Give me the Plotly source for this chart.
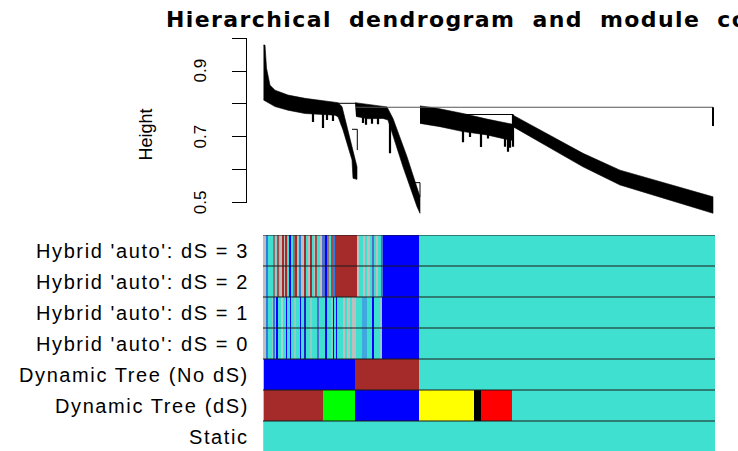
import plotly.graph_objects as go

W, H = 738, 451
N_LEAVES = 452          # leaf order positions along the dendrogram

# ---------------- dendrogram (leaf position, merge height) ----------------
# upper envelope (merge heights) left->right, lower envelope (leaf heights) right->left
c1_top_x = [0.5, 2, 3.5, 7, 12, 25, 42, 72, 75, 79, 84, 90, 94, 94]
c1_top_h = [0.979, 0.979, 0.909, 0.857, 0.842, 0.827, 0.817, 0.807, 0.804, 0.792, 0.731, 0.665, 0.609, 0.571]
c1_bot_x = [90, 89, 85, 80, 75, 72, 42, 25, 12, 4, 1, 0.5]
c1_bot_h = [0.574, 0.630, 0.670, 0.721, 0.761, 0.766, 0.771, 0.781, 0.792, 0.807, 0.812, 0.812]

c2_top_x = [92, 107, 124, 130, 144, 157, 157]
c2_top_h = [0.804, 0.798, 0.791, 0.756, 0.640, 0.518, 0.468]
c2_bot_x = [154, 140, 125, 120, 105, 93]
c2_bot_h = [0.488, 0.609, 0.751, 0.756, 0.755, 0.762]

c3_top_x = [157, 174, 200, 224, 250]
c3_top_h = [0.794, 0.787, 0.771, 0.754, 0.738]
c3_bot_x = [250, 247, 224, 200, 177, 157]
c3_bot_h = [0.690, 0.690, 0.706, 0.716, 0.731, 0.741]

c4_top_x = [250, 280, 320, 357, 397, 450]
c4_top_h = [0.766, 0.716, 0.650, 0.599, 0.564, 0.518]
c4_bot_x = [450, 397, 357, 320, 280, 250]
c4_bot_h = [0.468, 0.518, 0.554, 0.609, 0.680, 0.731]

# single-leaf spikes hanging below the bands
spike_x = [50, 60, 64, 70, 100, 103, 109, 115, 127, 200, 207, 218, 225, 242, 245, 247, 250]
spike_top = [0.775, 0.772, 0.771, 0.770, 0.760, 0.760, 0.760, 0.760, 0.756, 0.720, 0.717, 0.712,
             0.710, 0.695, 0.693, 0.692, 0.768]
spike_bot = [0.745, 0.727, 0.751, 0.748, 0.742, 0.737, 0.740, 0.738, 0.650, 0.684, 0.700, 0.669,
             0.695, 0.670, 0.655, 0.667, 0.670]

# open merge brackets
bracket1_x = [89, 94.3, 94.3]
bracket1_h = [0.723, 0.723, 0.660]
bracket2_x = [149, 157, 157]
bracket2_h = [0.561, 0.561, 0.518]

# upper merge lines
merge12_x = [75, 92]
merge12_h = [0.802, 0.802]
merge34_x = [200, 250]
merge34_h = [0.768, 0.768]
root_x = [92, 450]
root_h = [0.790, 0.790]
last_leaf_x = [450, 450]
last_leaf_h = [0.790, 0.733]

# y axis of dendrogram
tick_vals = [0.5, 0.6, 0.7, 0.8, 0.9, 1.0]
tick_labels = {0.5: "0.5", 0.7: "0.7", 0.9: "0.9"}

# ---------------- module colour rows ----------------
TRQ, GRY, BLU, BRN = "#40E0D0", "#BEBEBE", "#0000FF", "#A52A2A"
GRN, YEL, BLK, RED = "#00FF00", "#FFFF00", "#000000", "#FF0000"
DBL, GBR, GTQ, BGR = "#2E7BE6", "#8E7272", "#8CCDC6", "#9C4F4F"
BLG, LGT, BTQ, DKB = "#4F6FCF", "#9ED6D0", "#3FA8DE", "#2222C0"

row_labels = ["Hybrid 'auto': dS = 3", "Hybrid 'auto': dS = 2", "Hybrid 'auto': dS = 1",
              "Hybrid 'auto': dS = 0", "Dynamic Tree (No dS)", "Dynamic Tree (dS)", "Static"]

hybrid_ds3 = [(0, GRY), (3, DBL), (4.7, TRQ), (9.7, GBR), (11.7, GTQ), (13.7, BGR), (15.7, TRQ),
              (17.7, GRY), (19, BRN), (21, GRY), (22.3, BRN), (23.7, TRQ), (26.3, BLU), (27.7, TRQ),
              (30.3, GBR), (32.3, BRN), (33.7, GTQ), (36.3, DBL), (38.3, GRY), (41, BRN), (43, TRQ),
              (45, GRY), (47, BRN), (49, TRQ), (51, GRY), (52.3, BGR), (54.3, TRQ), (57, GRY),
              (59, BLG), (61.7, BLU), (63.7, GBR), (65.7, TRQ), (68.3, BGR), (70.3, DBL), (72.3, BRN),
              (93.7, GRY), (96.3, TRQ), (100.3, GRY), (102.3, TRQ), (104.3, GRY), (107, TRQ),
              (109, BLG), (111, TRQ), (113, GRY), (115, TRQ), (118.3, BLG), (119.7, BLU), (156, TRQ)]
hybrid_ds2 = list(hybrid_ds3)
hybrid_ds1 = [(0, GRY), (3, DBL), (5, TRQ), (9, GTQ), (10.3, DBL), (12.3, GTQ), (13.7, BLU), (15, TRQ),
              (18.3, LGT), (20.3, TRQ), (23, BLU), (23.7, TRQ), (27, BLU), (28.3, TRQ), (31, GTQ),
              (33, TRQ), (37, BLU), (38.3, TRQ), (41, DKB), (43, TRQ), (47, GTQ), (49, TRQ),
              (53.7, BLG), (56.3, TRQ), (61.7, BLU), (63.7, TRQ), (67.7, GTQ), (69.7, BLU), (71.7, TRQ),
              (73, BLU), (74.3, TRQ), (79.7, GRY), (81.7, TRQ), (84.3, GRY), (87, TRQ), (89, GRY),
              (93, TRQ), (99, BTQ), (103.7, TRQ), (109, BLU), (111, TRQ), (117, GTQ), (119, BLU), (156, TRQ)]
hybrid_ds0 = list(hybrid_ds1)
dynamic_nods = [(0, GRY), (1, BLU), (92, BRN), (156, TRQ)]
dynamic_ds = [(0, GRY), (1, BRN), (59.7, GRN), (92, BLU), (156, YEL), (211, BLK), (218, RED), (249.3, TRQ)]
static = [(0, GRY), (1, TRQ)]
rows = [hybrid_ds3, hybrid_ds2, hybrid_ds1, hybrid_ds0, dynamic_nods, dynamic_ds, static]

title_text = "Hierarchical dendrogram and module colors"

# ---------------- layout geometry ----------------
x_dom = [263 / W, 715 / W]
y_dom = [1 - 219.2 / H, 1 - 38.1 / H]
y_rng = [0.45, 1.0]
rows_dom = [0, 1 - 235 / H]
n_rows = len(rows)
rows_rng = [n_rows - 0.5 - (H - 235) / 31.0, n_rows - 0.5]

fig = go.Figure()


def poly(tx, th, bx, bh):
    fig.add_trace(go.Scatter(x=tx + bx, y=th + bh, mode="lines", fill="toself",
                             fillcolor="black", line=dict(color="black", width=0.6),
                             hoverinfo="skip", showlegend=False, xaxis="x", yaxis="y"))


poly(c1_top_x, c1_top_h, c1_bot_x, c1_bot_h)
poly(c2_top_x, c2_top_h, c2_bot_x, c2_bot_h)
poly(c3_top_x, c3_top_h, c3_bot_x, c3_bot_h)
poly(c4_top_x, c4_top_h, c4_bot_x, c4_bot_h)

sx, sy = [], []
for x, t, b in zip(spike_x, spike_top, spike_bot):
    sx += [x, x, None]
    sy += [t, b, None]
fig.add_trace(go.Scatter(x=sx, y=sy, mode="lines", line=dict(color="black", width=2.2),
                         hoverinfo="skip", showlegend=False))

for lx, lh, col, wd in [(bracket1_x, bracket1_h, "black", 1), (bracket2_x, bracket2_h, "black", 1),
                        (merge12_x, merge12_h, "black", 1), (merge34_x, merge34_h, "black", 1),
                        (root_x, root_h, "#555555", 1), (last_leaf_x, last_leaf_h, "black", 2)]:
    fig.add_trace(go.Scatter(x=lx, y=lh, mode="lines", line=dict(color=col, width=wd),
                             hoverinfo="skip", showlegend=False))

# colour rows as horizontal bars
for i, segs in enumerate(rows):
    ypos = n_rows - 1 - i
    starts = [s for s, _ in segs]
    ends = starts[1:] + [N_LEAVES]
    fig.add_trace(go.Bar(orientation="h", y=[ypos] * len(segs), base=starts,
                         x=[e - s for s, e in zip(starts, ends)], width=1.0,
                         marker=dict(color=[c for _, c in segs], line=dict(width=0)),
                         hoverinfo="skip", showlegend=False, xaxis="x2", yaxis="y2"))

bx, by = [], []
for k in range(n_rows):
    b = n_rows - 0.5 - k
    bx += [0, N_LEAVES, None]
    by += [b, b, None]
fig.add_trace(go.Scatter(x=bx, y=by, mode="lines", line=dict(color="#1a1a1a", width=1.2),
                         hoverinfo="skip", showlegend=False, xaxis="x2", yaxis="y2"))

annotations = []
label_font = dict(family="Liberation Sans, Arial, sans-serif", size=20, color="black")
for i, lab in enumerate(row_labels):
    annotations.append(dict(x=250.5 / W, xref="paper", y=n_rows - 1 - i, yref="y2",
                            text='<span style="letter-spacing:1.6px">' + lab + "</span>",
                            showarrow=False, xanchor="right", yanchor="middle", font=label_font))

axis_font = dict(family="Liberation Sans, Arial, sans-serif", size=17, color="black")
for v, t in tick_labels.items():
    annotations.append(dict(x=200.5 / W, xref="paper", y=v, yref="y", text=t, textangle=-90,
                            showarrow=False, xanchor="center", yanchor="middle", font=axis_font))
annotations.append(dict(x=145.5 / W, xref="paper", y=1 - 135 / H, yref="paper", text="Height",
                        textangle=-90, showarrow=False, xanchor="center", yanchor="middle",
                        font=dict(family="Liberation Sans, Arial, sans-serif", size=18, color="black")))
annotations.append(dict(x=164 / W, xref="paper", y=1 - 19.2 / H, yref="paper",
                        text='<span style="letter-spacing:1.4px;word-spacing:8px">' + title_text + "</span>",
                        showarrow=False, xanchor="left", yanchor="middle",
                        font=dict(family="DejaVu Sans", size=22, color="black", weight="bold")))

fig.update_layout(
    width=W, height=H, margin=dict(l=0, r=0, t=0, b=0),
    paper_bgcolor="white", plot_bgcolor="white", barmode="overlay", bargap=0,
    showlegend=False,
    xaxis=dict(domain=x_dom, range=[0, N_LEAVES], visible=False, anchor="y"),
    yaxis=dict(domain=y_dom, range=y_rng, anchor="free", position=246.5 / W,
               tickvals=tick_vals, ticks="outside", ticklen=15, tickwidth=1, tickcolor="black",
               showticklabels=False, showgrid=False, zeroline=False, showline=False),
    xaxis2=dict(domain=x_dom, range=[0, N_LEAVES], visible=False, anchor="y2"),
    yaxis2=dict(domain=rows_dom, range=rows_rng, visible=False, anchor="x2"),
    annotations=annotations,
    shapes=[dict(type="line", xref="paper", yref="y", x0=246.5 / W, x1=246.5 / W,
                 y0=tick_vals[0], y1=tick_vals[-1], line=dict(color="black", width=1))],
)

fig.write_html("out.html")
